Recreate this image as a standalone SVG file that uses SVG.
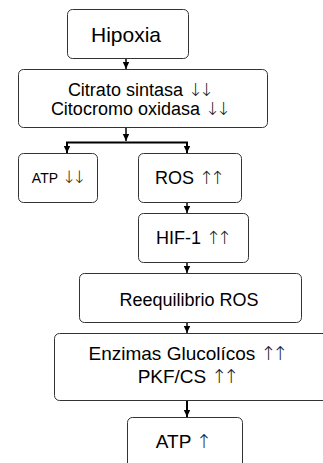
<svg xmlns="http://www.w3.org/2000/svg" width="323" height="463" viewBox="0 0 323 463">
<defs>
<style>
.box{fill:#fff;stroke:#333;stroke-width:1}
.t{font-family:"Liberation Sans",Arial,sans-serif;fill:#000;text-anchor:middle}
.a{font-family:"DejaVu Sans",sans-serif;font-weight:200;fill:#222;letter-spacing:-4px}
.c{fill:none;stroke:#000;stroke-width:1.5}
</style>
<marker id="ah" markerUnits="userSpaceOnUse" markerWidth="8" markerHeight="8" refX="7" refY="4" orient="auto">
<path d="M0,0.8 L7,4 L0,7.2 Z" fill="#000"/>
</marker>
</defs>
<rect width="323" height="463" fill="#fff"/>
<g id="connectors">
<path class="c" d="M126,59 V69" marker-end="url(#ah)"/>
<path class="c" d="M126,128 V141" marker-end="url(#ah)"/>
<path class="c" d="M67,153 V142.5 H187 V153" style="stroke-width:2" marker-end="url(#ah)"/>
<path class="c" d="M67,142.5 V153" marker-end="url(#ah)"/>
<path class="c" d="M187,203 V213" marker-end="url(#ah)"/>
<path class="c" d="M187,263 V273" marker-end="url(#ah)"/>
<path class="c" d="M187,323 V333" marker-end="url(#ah)"/>
<path class="c" d="M187,401 V417" style="stroke-width:2" marker-end="url(#ah)"/>
</g>
<g id="hipoxia">
<rect class="box" x="67.5" y="9.5" width="121" height="49" rx="5"/>
<text class="t" x="126" y="41.5" font-size="21">Hipoxia</text>
</g>
<g id="citrato">
<rect class="box" x="18.5" y="69.5" width="249" height="58" rx="5"/>
<text class="t" x="139" y="96" font-size="18">Citrato sintasa <tspan class="a">↓↓</tspan></text>
<text class="t" x="139" y="115" font-size="18">Citocromo oxidasa <tspan class="a">↓↓</tspan></text>
</g>
<g id="atp-down">
<rect class="box" x="18.5" y="153.5" width="79" height="49" rx="5"/>
<text class="t" x="57" y="183" font-size="14">ATP <tspan class="a" font-size="17">↓↓</tspan></text>
</g>
<g id="ros">
<rect class="box" x="138.5" y="153.5" width="103" height="49" rx="5"/>
<text class="t" x="188" y="184" font-size="18">ROS <tspan class="a">↑↑</tspan></text>
</g>
<g id="hif1">
<rect class="box" x="138.5" y="213.5" width="110" height="49" rx="5"/>
<text class="t" x="192" y="244" font-size="18">HIF-1 <tspan class="a">↑↑</tspan></text>
</g>
<g id="reequilibrio">
<rect class="box" x="79.5" y="273.5" width="222" height="49" rx="5"/>
<text class="t" x="189" y="305.5" font-size="18">Reequilibrio ROS</text>
</g>
<g id="enzimas">
<rect class="box" x="54.5" y="333.5" width="285" height="67" rx="5"/>
<text class="t" x="186.5" y="359.5" font-size="19">Enzimas Glucolícos <tspan class="a">↑↑</tspan></text>
<text class="t" x="186.5" y="382.5" font-size="19">PKF/CS <tspan class="a">↑↑</tspan></text>
</g>
<g id="atp-up">
<rect class="box" x="127.5" y="417.5" width="115" height="60" rx="5"/>
<text class="t" x="182" y="448" font-size="19">ATP <tspan class="a">↑</tspan></text>
</g>
</svg>
